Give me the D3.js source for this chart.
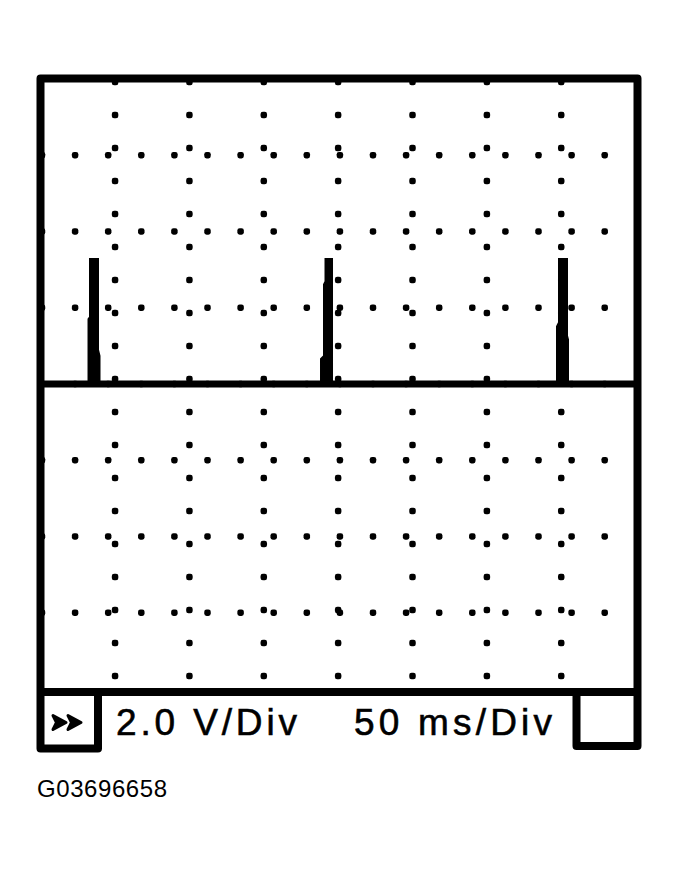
<!DOCTYPE html>
<html>
<head>
<meta charset="utf-8">
<script src="https://cdn.jsdelivr.net/npm/d3@7"></script>
<style>
  html, body { margin: 0; padding: 0; background: #fff; }
  svg { display: block; }
  text { font-family: "Liberation Sans", Arial, Helvetica, sans-serif; fill: #000; }
</style>
</head>
<body>
<svg id="chart" width="679" height="871"></svg>
<script>
// ---- data ----
const timeTicksMs = [50, 100, 150, 200, 250, 300, 350];   // vertical graticule lines
const voltTicksV  = [-6, -4, -2, 0, 2, 4, 6];             // horizontal graticule lines
const traceTimeMs = [0,
  33.83, 33.83, 34.83, 34.83, 36.85, 36.85, 37.86, 37.86,
  190.16, 190.16, 192.17, 192.17, 193.18, 193.18, 194.19, 194.19,
  348.84, 348.84, 350.19, 350.19, 352.21, 352.21, 352.88, 352.88,
  400];
const traceVolts = [0,
  0, 1.68, 1.73, 3.21, 3.21, 0.89, 0.73, 0,
  0, 0.63, 0.71, 2.59, 2.67, 3.21, 3.21, 0,
  0, 1.49, 1.60, 3.21, 3.21, 1.25, 1.15, 0,
  0];
const voltLabel = "2.0 V/Div";
const timeLabel = "50 ms/Div";
const figureId  = "G03696658";

// ---- layout / style ----
const scr = { left: 40.7, right: 635.6, top: 78.9, bottom: 688.9 };
const DOT = 6.5, DOT_PITCH_X = 33.1, DOT_PITCH_Y = 33.0;
const BORDER = 8;

const svg = d3.select("#chart");
const x = d3.scaleLinear().domain([0, 400]).range([scr.left, scr.right]);
const y = d3.scaleLinear().domain([-8, 8]).range([scr.bottom, scr.top]);

svg.append("defs").append("clipPath").attr("id", "scrClip")
  .append("rect").attr("x", scr.left).attr("y", scr.top)
  .attr("width", scr.right - scr.left).attr("height", scr.bottom - scr.top);

const grid = svg.append("g").attr("clip-path", "url(#scrClip)");

// dotted vertical graticule lines
const colDotYs = d3.range(82, scr.bottom - 5, DOT_PITCH_Y);
timeTicksMs.forEach(t => {
  grid.selectAll(null).data(colDotYs).enter().append("rect")
    .attr("x", x(t) - DOT / 2).attr("y", d => d - DOT / 2)
    .attr("width", DOT).attr("height", DOT).attr("rx", 2.3).attr("fill", "#000");
});
// dotted horizontal graticule lines
const rowDotXs = d3.range(42, scr.right + 4, DOT_PITCH_X);
voltTicksV.forEach(v => {
  grid.selectAll(null).data(rowDotXs).enter().append("rect")
    .attr("x", d => d - DOT / 2).attr("y", y(v) - DOT / 2)
    .attr("width", DOT).attr("height", DOT).attr("rx", 2.3).attr("fill", "#000");
});

// trace
const pts = traceTimeMs.map((t, i) => [t, traceVolts[i]]);
const line = d3.line().x(d => x(d[0])).y(d => y(d[1]));
grid.append("path").attr("d", line(pts))
  .attr("fill", "none").attr("stroke", "#000").attr("stroke-width", 7)
  .attr("stroke-linejoin", "miter").attr("stroke-miterlimit", 10);

// frame
const L = 40.5, R = 637.5, T = 78.5, MID = 692, LB = 98, RB = 576.5;
svg.append("path")
  .attr("d", `M${LB},${MID} V748.5 H${L} V${T} H${R} V746 H${RB} V${MID}`)
  .attr("fill", "none").attr("stroke", "#000").attr("stroke-width", BORDER)
  .attr("stroke-linejoin", "round");
svg.append("path").attr("d", `M${L},${MID} H${R}`)
  .attr("stroke", "#000").attr("stroke-width", BORDER);

// ">>" icon
[53, 68].forEach(x0 => {
  svg.append("path")
    .attr("d", `M${x0},715.5 L${x0 + 13},722.5 L${x0},729.5 L${x0 + 3.5},722.5 Z`)
    .attr("fill", "#000").attr("stroke", "#000").attr("stroke-width", 3)
    .attr("stroke-linejoin", "round");
});

// labels
svg.append("text").attr("x", 116).attr("y", 735).attr("font-size", 37)
  .attr("stroke", "#000").attr("stroke-width", 0.6)
  .attr("textLength", 181).attr("lengthAdjust", "spacing").text(voltLabel);
svg.append("text").attr("x", 354).attr("y", 735).attr("font-size", 37)
  .attr("stroke", "#000").attr("stroke-width", 0.6)
  .attr("textLength", 198).attr("lengthAdjust", "spacing").text(timeLabel);
svg.append("text").attr("x", 37).attr("y", 797).attr("font-size", 24)
  .attr("textLength", 130).attr("lengthAdjust", "spacing").text(figureId);
</script>
</body>
</html>
